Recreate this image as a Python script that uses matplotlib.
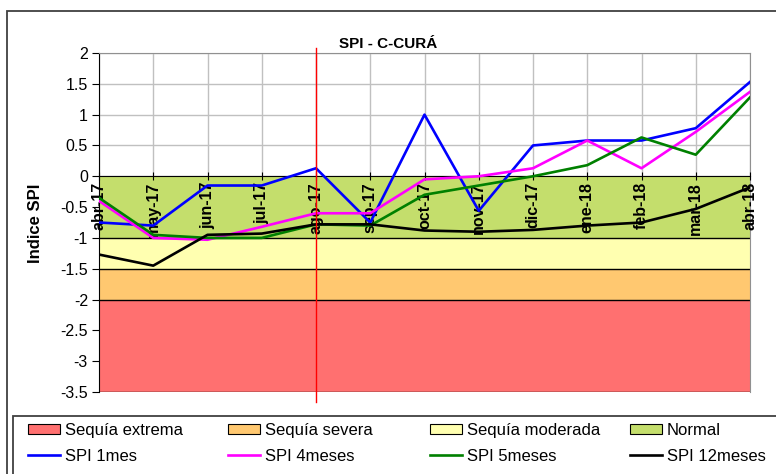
import numpy as np
import matplotlib.pyplot as plt
from matplotlib.patches import Patch, Rectangle
from matplotlib.lines import Line2D

plt.rcParams['font.family'] = ['Liberation Sans', 'DejaVu Sans']

months = ['abr-17', 'may-17', 'jun-17', 'jul-17', 'ago-17', 'sep-17', 'oct-17',
          'nov-17', 'dic-17', 'ene-18', 'feb-18', 'mar-18', 'abr-18']

spi_1 = [-0.75, -0.8, -0.15, -0.15, 0.13, -0.75, 1.0, -0.56, 0.5, 0.58, 0.58, 0.78, 1.53]
spi_4 = [-0.4, -1.0, -1.03, -0.82, -0.6, -0.6, -0.05, 0.0, 0.13, 0.58, 0.13, 0.72, 1.37]
spi_5 = [-0.35, -0.95, -1.0, -1.0, -0.78, -0.8, -0.3, -0.15, 0.0, 0.18, 0.63, 0.35, 1.28]
spi_12 = [-1.27, -1.45, -0.95, -0.93, -0.78, -0.78, -0.88, -0.9, -0.87, -0.8, -0.75, -0.53, -0.18]

# drought categories: lower / upper limit and colour
band_names = ['Sequía extrema', 'Sequía severa', 'Sequía moderada', 'Normal']
band_low = [-3.5, -2.0, -1.5, -1.0]
band_high = [-2.0, -1.5, -1.0, 0.0]
band_colors = ['#ff7070', '#ffc870', '#ffffb0', '#c4de6c']

series_names = ['SPI 1mes', 'SPI 4meses', 'SPI 5meses', 'SPI 12meses']
series_colors = ['#0000ff', '#ff00ff', '#008000', '#000000']
marker_month = 'ago-17'

fig = plt.figure(figsize=(7.76, 4.74), dpi=100)
W, H = 776, 474
ax = fig.add_axes([99 / W, 1 - 392 / H, 651 / W, 339 / H])

# category axis crosses at 0 (set first, it resets the ticks)
ax.spines['bottom'].set_position(('data', 0))
ax.spines['bottom'].set_zorder(3)
ax.spines['top'].set_color('#909090')
ax.spines['right'].set_color('#909090')

x = np.arange(len(months))
yt = np.arange(-3.5, 2.01, 0.5)
ax.set_xlim(0, len(months) - 1)
ax.set_ylim(-3.5, 2)

# gridlines under the drought bands, tick labels above them
ax.vlines(x, -3.5, 2, color='#c0c0c0', lw=1, zorder=0.5)
ax.hlines(yt, 0, len(months) - 1, color='#c0c0c0', lw=1, zorder=0.5)
for lo, hi, c in zip(band_low, band_high, band_colors):
    ax.axhspan(lo, hi, color=c, lw=0, zorder=1)
for lo in band_low:
    ax.axhline(lo, color='black', lw=1, zorder=2)

for vals, c in zip([spi_1, spi_4, spi_5, spi_12], series_colors):
    ax.plot(x, vals, color=c, lw=1.9, zorder=4)

ax.axvline(months.index(marker_month), ymin=-0.03, ymax=1.015, color='red',
           lw=1, clip_on=False, zorder=5)

ax.set_yticks(yt)
ax.set_yticklabels([f'{v:g}' for v in yt])
ax.set_xticks(x)
ax.set_xticklabels(months, rotation=90, fontsize=11.5, fontweight='bold',
                   ha='center', va='top')
ax.tick_params(axis='x', direction='inout', length=6, pad=1)
ax.tick_params(axis='y', direction='out', length=5, labelsize=11.5, pad=3)
ax.xaxis.set_zorder(3.5)

fig.text(388 / W, 1 - 43.5 / H, 'SPI - C-CURÁ', ha='center', va='center',
         fontsize=11, fontweight='bold')
fig.text(36 / W, 1 - 223 / H, 'Indice SPI', ha='center', va='center',
         rotation=90, fontsize=12, fontweight='bold')

# outer chart frame and legend frame
fig.add_artist(Rectangle((7 / W, -0.1), 1.1, 1.1 - 11 / H,
                         transform=fig.transFigure, fill=False, ec='#404040', lw=1.3))
fig.add_artist(Rectangle((13 / W, -0.1), 1.1, 0.1 + (474 - 415.5) / H,
                         transform=fig.transFigure, fill=False, ec='#404040', lw=1.3))

col_x = [28, 228, 430, 630]
for i in range(4):
    handles = [Patch(facecolor=band_colors[i], edgecolor='black', lw=0.8),
               Line2D([], [], color=series_colors[i], lw=1.9)]
    fig.legend(handles, [band_names[i], series_names[i]], loc='upper left',
               bbox_to_anchor=(col_x[i] / W, 1 - 423 / H), frameon=False,
               borderpad=0, borderaxespad=0, handlelength=1.9, handleheight=0.6,
               handletextpad=0.3, labelspacing=0.65, fontsize=12)

fig.savefig('out.png', dpi=100)
